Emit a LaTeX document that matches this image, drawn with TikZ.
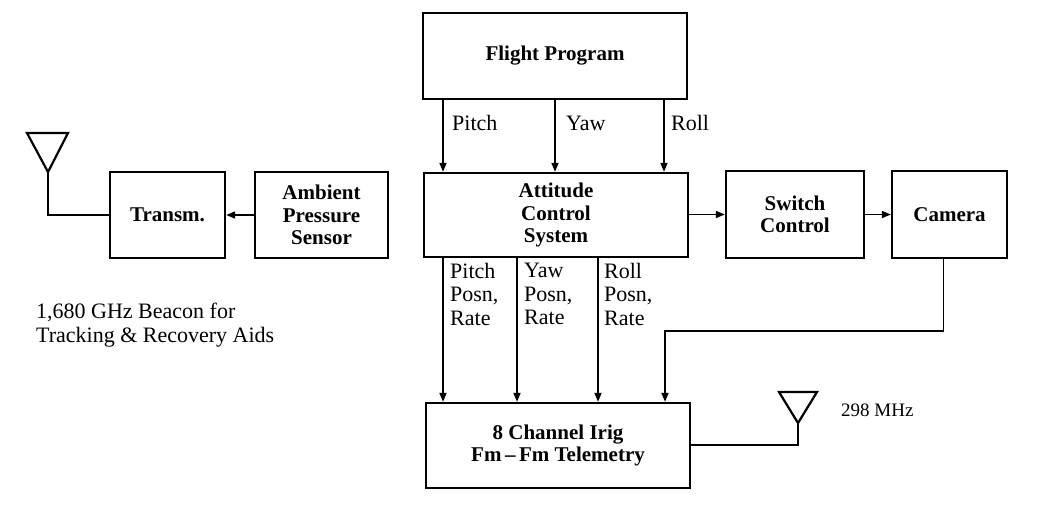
\documentclass[tikz,border=0pt]{standalone}
\usepackage{fontspec}
\setmainfont{Liberation Serif}
\usetikzlibrary{arrows.meta}
\begin{document}
\begin{tikzpicture}[x=1pt,y=-1pt,
  box/.style={draw, line width=2.3pt, align=center, font=\fontsize{21}{22.5}\selectfont\bfseries, inner sep=0pt},
  wire/.style={line width=1.7pt},
  arr/.style={wire, -{Triangle[length=9pt,width=7pt]}},
  lab/.style={font=\fontsize{22}{23.5}\selectfont, align=left, inner sep=0pt},
]
\useasboundingbox (0,0) rectangle (1039,524);
% boxes
\node[box, minimum width=264pt, minimum height=86pt] (fp) at (555,56) {Flight Program};
\node[box, minimum width=264pt, minimum height=84pt] (acs) at (556,215) {Attitude\\Control\\System};
\node[box, minimum width=138pt, minimum height=87pt] (sw) at (795,214.5) {Switch\\Control};
\node[box, minimum width=115pt, minimum height=87pt] (cam) at (949.5,214.5) {Camera};
\node[box, minimum width=115pt, minimum height=86pt] (tx) at (167.5,215) {Transm.};
\node[box, minimum width=133pt, minimum height=86pt] (amb) at (321.5,215) {Ambient\\Pressure\\Sensor};
\node[box, minimum width=264pt, minimum height=85pt] (tm) at (558,445.5) {8 Channel Irig\\Fm\,--\,Fm Telemetry};
% column coordinates
\coordinate (c1) at (443,0);
\coordinate (c2) at (555,0);
\coordinate (c3) at (664,0);
\coordinate (d1) at (443,0);
\coordinate (d2) at (517,0);
\coordinate (d3) at (598,0);
\coordinate (camjoin) at (665,331);
% FP -> ACS
\draw[arr] (fp.south -| c1) -- (acs.north -| c1);
\draw[arr] (fp.south -| c2) -- (acs.north -| c2);
\draw[arr] (fp.south -| c3) -- (acs.north -| c3);
\node[lab, anchor=west] (lp) at (452,123) {Pitch};
\node[lab, anchor=west] (ly) at (566,123) {Yaw};
\node[lab, anchor=west] (lr) at (671,123) {Roll};
% ACS -> TM
\draw[arr] (acs.south -| d1) -- (tm.north -| d1);
\draw[arr] (acs.south -| d2) -- (tm.north -| d2);
\draw[arr] (acs.south -| d3) -- (tm.north -| d3);
\node[lab, anchor=north west] (lp2) at (450,263) {Pitch\\Posn,\\Rate};
\node[lab, anchor=north west] (ly2) at (524,263) {Yaw\\Posn,\\Rate};
\node[lab, anchor=north west] (lr2) at (604,263) {Roll\\Posn,\\Rate};
% right chain
\draw[arr] (acs.east |- sw.west) -- (sw.west);
\draw[arr] (sw.east) -- (cam.west);
\draw[arr] ([xshift=-6pt]cam.south) |- (camjoin) -- (camjoin |- tm.north);
% left chain
\draw[arr] (amb.west) -- (tx.east);
\coordinate (antL) at (48,172);
\draw[wire] (tx.west) -| (antL);
\draw[line width=2.2pt, line join=miter] (antL) -- (27,133) -- (68,133) -- cycle;
\node[lab, anchor=north west] (beacon) at (36,303) {1,680 GHz Beacon for\\Tracking \& Recovery Aids};
% right antenna
\coordinate (antR) at (798,423);
\draw[wire] (tm.east |- 0,445) -| (antR);
\draw[line width=2.2pt, line join=miter] (antR) -- (779,392) -- (817,392) -- cycle;
\node[lab, anchor=west, font=\fontsize{19}{21}\selectfont] (mhz) at (841,410) {298 MHz};
\end{tikzpicture}
\end{document}
